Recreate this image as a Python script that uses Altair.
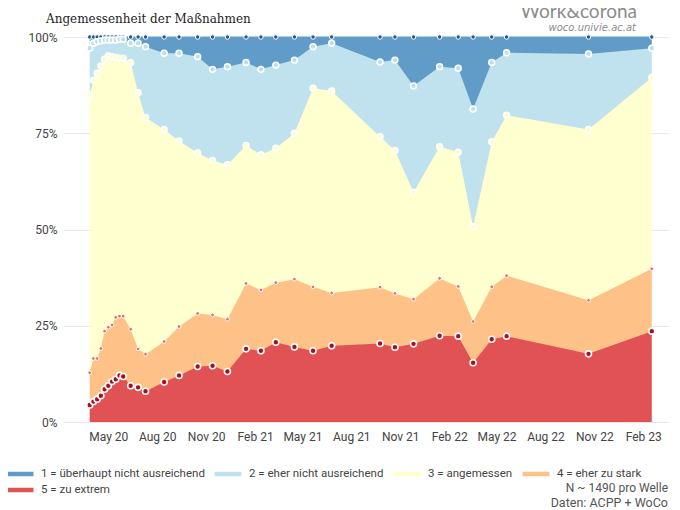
import altair as alt
import pandas as pd

# ---------------- data ----------------
wave_dates = [
    "2020-03-27", "2020-04-03", "2020-04-10", "2020-04-17", "2020-04-24",
    "2020-05-01", "2020-05-08", "2020-05-15", "2020-05-22", "2020-05-29",
    "2020-06-12", "2020-06-26", "2020-07-10", "2020-08-14", "2020-09-11",
    "2020-10-16", "2020-11-13", "2020-12-11", "2021-01-15", "2021-02-12",
    "2021-03-12", "2021-04-16", "2021-05-21", "2021-06-25", "2021-09-24",
    "2021-10-22", "2021-11-26", "2022-01-14", "2022-02-18", "2022-03-18",
    "2022-04-22", "2022-05-20", "2022-10-21", "2023-02-17",
]
# 1 = überhaupt nicht ausreichend
share_1 = [2.9, 1.6, 1.2, 1.0, 0.8, 0.8, 0.8, 0.8, 0.6, 0.6,
           1.6, 1.6, 2.5, 4.2, 4.2, 5.1, 8.4, 7.7, 6.6, 8.4,
           7.3, 6.0, 2.5, 1.6, 6.5, 6.0, 12.7, 7.7, 8.1, 18.7,
           6.6, 4.1, 4.4, 2.9]
# 2 = eher nicht ausreichend
share_2 = [12.2, 9.6, 8.2, 6.5, 5.0, 4.1, 4.3, 4.5, 4.9, 4.9,
           5.1, 12.9, 18.4, 19.8, 22.8, 25.0, 23.7, 25.5, 21.6, 22.2,
           21.6, 19.0, 10.8, 12.4, 19.4, 23.5, 27.6, 20.8, 21.8, 30.6,
           20.6, 16.2, 19.6, 7.6]
# 3 = angemessen
share_3 = [72.1, 72.3, 74.1, 73.4, 70.6, 70.5, 69.7, 67.5, 67.0, 67.0,
           69.2, 66.5, 61.5, 55.1, 48.2, 41.7, 40.1, 40.1, 35.8, 35.1,
           34.9, 37.9, 51.6, 52.5, 39.1, 37.1, 27.8, 34.2, 34.9, 24.6,
           37.7, 41.7, 44.4, 49.7]
# 4 = eher zu stark
share_4 = [8.4, 11.2, 10.6, 12.3, 15.1, 15.2, 14.7, 16.1, 15.4, 15.7,
           14.7, 10.0, 9.6, 10.5, 12.7, 13.8, 13.2, 13.6, 17.0, 15.8,
           15.5, 17.6, 16.6, 13.7, 14.6, 14.0, 11.6, 14.9, 12.9, 10.7,
           13.6, 15.7, 13.9, 16.2]
# 5 = zu extrem
share_5 = [4.4, 5.3, 5.9, 6.8, 8.5, 9.4, 10.5, 11.1, 12.1, 11.8,
           9.4, 9.0, 8.0, 10.4, 12.1, 14.4, 14.6, 13.1, 19.0, 18.5,
           20.7, 19.5, 18.5, 19.8, 20.4, 19.4, 20.3, 22.4, 22.3, 15.4,
           21.5, 22.3, 17.7, 23.6]

categories = [
    "1 = überhaupt nicht ausreichend",
    "2 = eher nicht ausreichend",
    "3 = angemessen",
    "4 = eher zu stark",
    "5 = zu extrem",
]
area_colors = ["#619cc8", "#c0e2ee", "#ffffcf", "#fec288", "#e15255"]
point_fill = ["#2b5b8a", "#b8def0", "#ffffc8", "#e07464", "#a8101c"]
point_size = [20, 34, 34, 14, 36]
point_stroke_w = [1.0, 1.6, 1.6, 1.0, 1.6]

x_ticks = [(2020, 5), (2020, 8), (2020, 11), (2021, 2), (2021, 5), (2021, 8),
           (2021, 11), (2022, 2), (2022, 5), (2022, 8), (2022, 11), (2023, 2)]
y_ticks = [0, 25, 50, 75, 100]

title_text = "Angemessenheit der Maßnahmen"
logo_text = "Work&corona"
logo_url = "woco.univie.ac.at"
note_n = "N ~ 1490 pro Welle"
note_src = "Daten: ACPP + WoCo"

# ---------------- long table with stacked bounds ----------------
shares = [share_1, share_2, share_3, share_4, share_5]
rows = []
for i, d in enumerate(wave_dates):
    lo = 0.0
    for k in (4, 3, 2, 1, 0):
        hi = lo + shares[k][i]
        rows.append({"date": d, "cat": categories[k], "k": k, "lo": lo, "hi": min(hi, 100.0)})
        lo = hi
df = pd.DataFrame(rows)

FONT = "Roboto"
LABEL_COL = "#444444"

x_enc = alt.X(
    "date:T",
    scale=alt.Scale(domain=[alt.DateTime(year=2020, month=2, date=5, hours=19),
                            alt.DateTime(year=2023, month=3, date=19, hours=12)]),
    axis=alt.Axis(
        values=[alt.DateTime(year=y, month=m, date=1) for (y, m) in x_ticks],
        format="%b %y", title=None, domain=False, ticks=False,
        labelPadding=9, labelFontSize=12, labelColor=LABEL_COL, labelFont=FONT,
        gridColor="#eeeeee", labelFlush=False,
    ),
)
y_enc = alt.Y(
    "hi:Q",
    scale=alt.Scale(domain=[0, 100], nice=False),
    axis=alt.Axis(
        values=y_ticks, labelExpr="datum.value + '%'", title=None,
        domain=False, ticks=False, labelPadding=6, labelFontSize=12,
        labelColor=LABEL_COL, labelFont=FONT, gridColor="#e8e8e8",
    ),
)

base = alt.Chart(df)

# boundary lines (hidden under the areas) carry the legend
lines = base.mark_line(strokeWidth=1).encode(
    x=x_enc, y=y_enc,
    stroke=alt.Stroke(
        "cat:N",
        scale=alt.Scale(domain=categories, range=area_colors),
        legend=alt.Legend(
            title=None, orient="none", legendX=-59, legendY=421,
            direction="horizontal", columns=4, gridAlign="none",
            symbolType="stroke", symbolSize=729, symbolStrokeWidth=4.5,
            labelFont=FONT, labelFontSize=11.5, labelColor=LABEL_COL,
            labelOffset=5, labelLimit=400, columnPadding=0, rowPadding=-9,
            symbolOpacity=1,
        ),
    ),
)

areas = base.mark_area(opacity=1, interpolate="linear").encode(
    x=x_enc, y=y_enc, y2="lo:Q",
    fill=alt.Fill("cat:N", scale=alt.Scale(domain=categories, range=area_colors), legend=None),
)

point_layers = []
for k in range(5):
    point_layers.append(
        base.transform_filter(alt.datum.k == k).mark_point(
            filled=True, fill=point_fill[k], stroke="white",
            strokeWidth=point_stroke_w[k], size=point_size[k], opacity=1,
        ).encode(x=x_enc, y=y_enc)
    )

one = pd.DataFrame({"a": [0]})
title = alt.Chart(one).mark_text(
    text=title_text, align="left", baseline="middle", font="DejaVu Serif",
    fontSize=12, color="#222222",
).encode(x=alt.value(-17), y=alt.value(-18))
logo = alt.Chart(one).mark_text(
    text=logo_text, align="right", baseline="middle", font="Lato",
    fontSize=19, color="#8c8c8c",
).encode(x=alt.value(574), y=alt.value(-25))
logo2 = alt.Chart(one).mark_text(
    text=logo_url, align="right", baseline="middle", font="DejaVu Sans",
    fontSize=10, fontStyle="italic", color="#8c8c8c",
).encode(x=alt.value(573), y=alt.value(-9))
note1 = alt.Chart(one).mark_text(
    text=note_n, align="right", baseline="middle", font=FONT,
    fontSize=12, color="#555555",
).encode(x=alt.value(605), y=alt.value(451))
note2 = alt.Chart(one).mark_text(
    text=note_src, align="right", baseline="alphabetic", font=FONT,
    fontSize=12.5, color="#555555",
).encode(x=alt.value(605), y=alt.value(470))

chart = alt.layer(lines, areas, *point_layers, title, logo, logo2, note1, note2).properties(
    width=605, height=385,
    padding={"left": 55, "top": 29, "right": 4, "bottom": 88},
    autosize=alt.AutoSizeParams(type="none"),
    background="white",
).configure_view(stroke=None)

chart.save("out.html", embed_options={"renderer": "svg", "actions": False})
